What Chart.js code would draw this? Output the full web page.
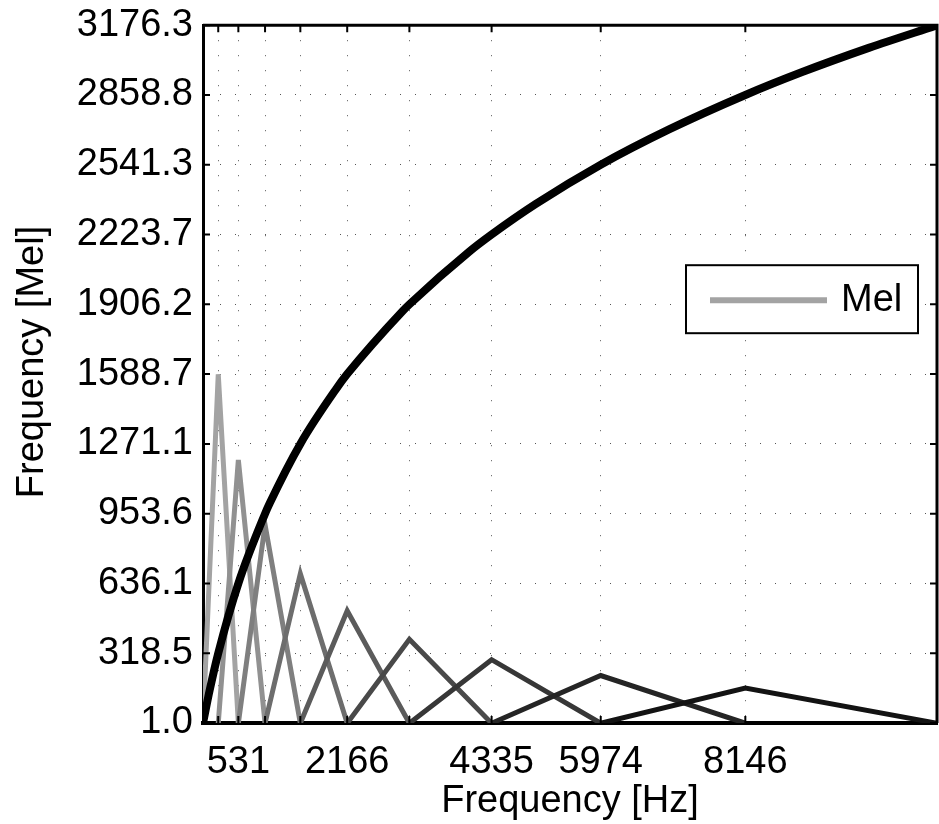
<!DOCTYPE html>
<html>
<head>
<meta charset="utf-8">
<script src="https://cdn.jsdelivr.net/npm/chart.js@4.4.1/dist/chart.umd.min.js"></script>
<style>
  html, body { margin: 0; padding: 0; background: #fff; }
  canvas { display: block; }
</style>
</head>
<body>
<canvas id="melChart" width="939" height="824"></canvas>
<script>
// filter band edges (Hz) and triangle peak heights
const filterEdgesHz = [0, 229, 531, 932, 1462, 2166, 3100, 4335, 5974, 8146, 11025];
const filterPeaks = [1588, 1198, 903, 680, 512, 382, 289, 217, 160];

// mel curve, read at grid crossings and a few points between
const melCurveHz = [0, 100, 229, 531, 932, 1000, 1462, 2000, 2166, 3000, 3100, 4000, 4335, 5000, 5974, 7000, 8146, 9000, 10000, 11025];
const melCurveMel = [1.0, 150, 318.5, 636.1, 953.6, 1000, 1271.1, 1521, 1588.7, 1876, 1906.2, 2146, 2223.7, 2363, 2541.3, 2702, 2858.8, 2963, 3073, 3176.3];

const yTickValues = [1.0, 318.5, 636.1, 953.6, 1271.1, 1588.7, 1906.2, 2223.7, 2541.3, 2858.8, 3176.3];
const yTickLabels = ["1.0", "318.5", "636.1", "953.6", "1271.1", "1588.7", "1906.2", "2223.7", "2541.3", "2858.8", "3176.3"];
const xTickValues = [229, 531, 932, 1462, 2166, 3100, 4335, 5974, 8146];
const xTickLabels = ["", "531", "", "", "2166", "", "4335", "5974", "8146"];

const legendLabel = "Mel";
const yTitle = "Frequency [Mel]";
const filterGrays = [163, 145, 127, 109, 91, 73, 55, 37, 19];

const FONT = "'Liberation Sans', Arial, Helvetica, sans-serif";
const FS = 38;

const datasets = [];
datasets.push({
  label: "curve",
  data: melCurveHz.map((f, i) => ({ x: f, y: melCurveMel[i] })),
  borderColor: "#000",
  borderWidth: 8,
  pointRadius: 0,
  cubicInterpolationMode: "monotone",
  order: 0,
});
filterPeaks.forEach((peak, k) => {
  const g = filterGrays[k];
  datasets.push({
    label: k === 0 ? legendLabel : "",
    data: [
      { x: filterEdgesHz[k], y: 0 },
      { x: filterEdgesHz[k + 1], y: peak },
      { x: filterEdgesHz[k + 2], y: 0 },
    ],
    borderColor: `rgb(${g},${g},${g})`,
    borderWidth: 5,
    pointRadius: 0,
    tension: 0,
    order: 10 - k,
  });
});

// box, inward tick marks, y title and legend, MATLAB style
const framePlugin = {
  id: "frame",
  afterDatasetsDraw(chart) {
    const { ctx, chartArea: a, scales } = chart;
    ctx.save();
    ctx.strokeStyle = "#000";
    ctx.lineWidth = 2;
    ctx.beginPath();
    xTickValues.forEach((v) => {
      const px = scales.x.getPixelForValue(v);
      ctx.moveTo(px, a.bottom);
      ctx.lineTo(px, a.bottom - 7);
      ctx.moveTo(px, a.top);
      ctx.lineTo(px, a.top + 7);
    });
    yTickValues.forEach((v) => {
      const py = scales.y.getPixelForValue(v);
      ctx.moveTo(a.left, py);
      ctx.lineTo(a.left + 7, py);
      ctx.moveTo(a.right, py);
      ctx.lineTo(a.right - 7, py);
    });
    ctx.stroke();

    ctx.lineWidth = 3;
    ctx.beginPath();
    ctx.moveTo(a.left, a.top);
    ctx.lineTo(a.right, a.top);
    ctx.lineTo(a.right, a.bottom);
    ctx.stroke();

    // y axis title
    ctx.fillStyle = "#000";
    ctx.font = `${FS}px ${FONT}`;
    ctx.textAlign = "center";
    ctx.textBaseline = "middle";
    ctx.translate(33, 362);
    ctx.rotate(-Math.PI / 2);
    ctx.fillText(yTitle, 0, 0);
    ctx.setTransform(1, 0, 0, 1, 0, 0);

    // legend
    const ds = chart.data.datasets[1];
    const bx = a.right - 251, by = a.top + 240, bw = 232, bh = 68;
    ctx.fillStyle = "#fff";
    ctx.fillRect(bx, by, bw, bh);
    ctx.lineWidth = 2;
    ctx.strokeRect(bx, by, bw, bh);
    ctx.strokeStyle = ds.borderColor;
    ctx.lineWidth = 6;
    ctx.beginPath();
    ctx.moveTo(bx + 24, by + 35);
    ctx.lineTo(bx + 141, by + 35);
    ctx.stroke();
    ctx.fillStyle = "#000";
    ctx.textAlign = "left";
    ctx.fillText(ds.label, bx + 155, by + 35);
    ctx.restore();
  },
};

new Chart(document.getElementById("melChart"), {
  type: "line",
  data: { datasets },
  options: {
    responsive: false,
    animation: false,
    devicePixelRatio: 1,
    layout: { padding: { top: 25, right: 2, left: 0, bottom: 0 } },
    plugins: {
      legend: { display: false },
      tooltip: { enabled: false },
    },
    scales: {
      x: {
        type: "linear",
        min: 0,
        max: 11025,
        afterBuildTicks: (s) => { s.ticks = xTickValues.map((v) => ({ value: v })); },
        afterFit: (s) => { s.height = 101; },
        ticks: {
          autoSkip: false,
          maxRotation: 0,
          color: "#000",
          padding: 17,
          font: { family: FONT, size: FS },
          callback: (v, i) => xTickLabels[i],
        },
        grid: {
          color: "#555",
          lineWidth: 1,
          drawTicks: false,
        },
        border: { display: true, color: "#000", width: 4, dash: [1, 14] },
        title: {
          display: true,
          text: "Frequency [Hz]",
          color: "#000",
          padding: { top: 0, bottom: 0 },
          font: { family: FONT, size: FS },
        },
      },
      y: {
        type: "linear",
        min: 1.0,
        max: 3176.3,
        afterBuildTicks: (s) => { s.ticks = yTickValues.map((v) => ({ value: v })); },
        afterFit: (s) => { s.width = 203; },
        ticks: {
          autoSkip: false,
          color: "#000",
          padding: 10,
          font: { family: FONT, size: FS, lineHeight: 0.8 },
          callback: (v, i) => yTickLabels[i],
        },
        grid: {
          color: "#555",
          lineWidth: 1,
          drawTicks: false,
        },
        border: { display: true, color: "#000", width: 3, dash: [1, 14] },
      },
    },
  },
  plugins: [framePlugin],
});
</script>
</body>
</html>
